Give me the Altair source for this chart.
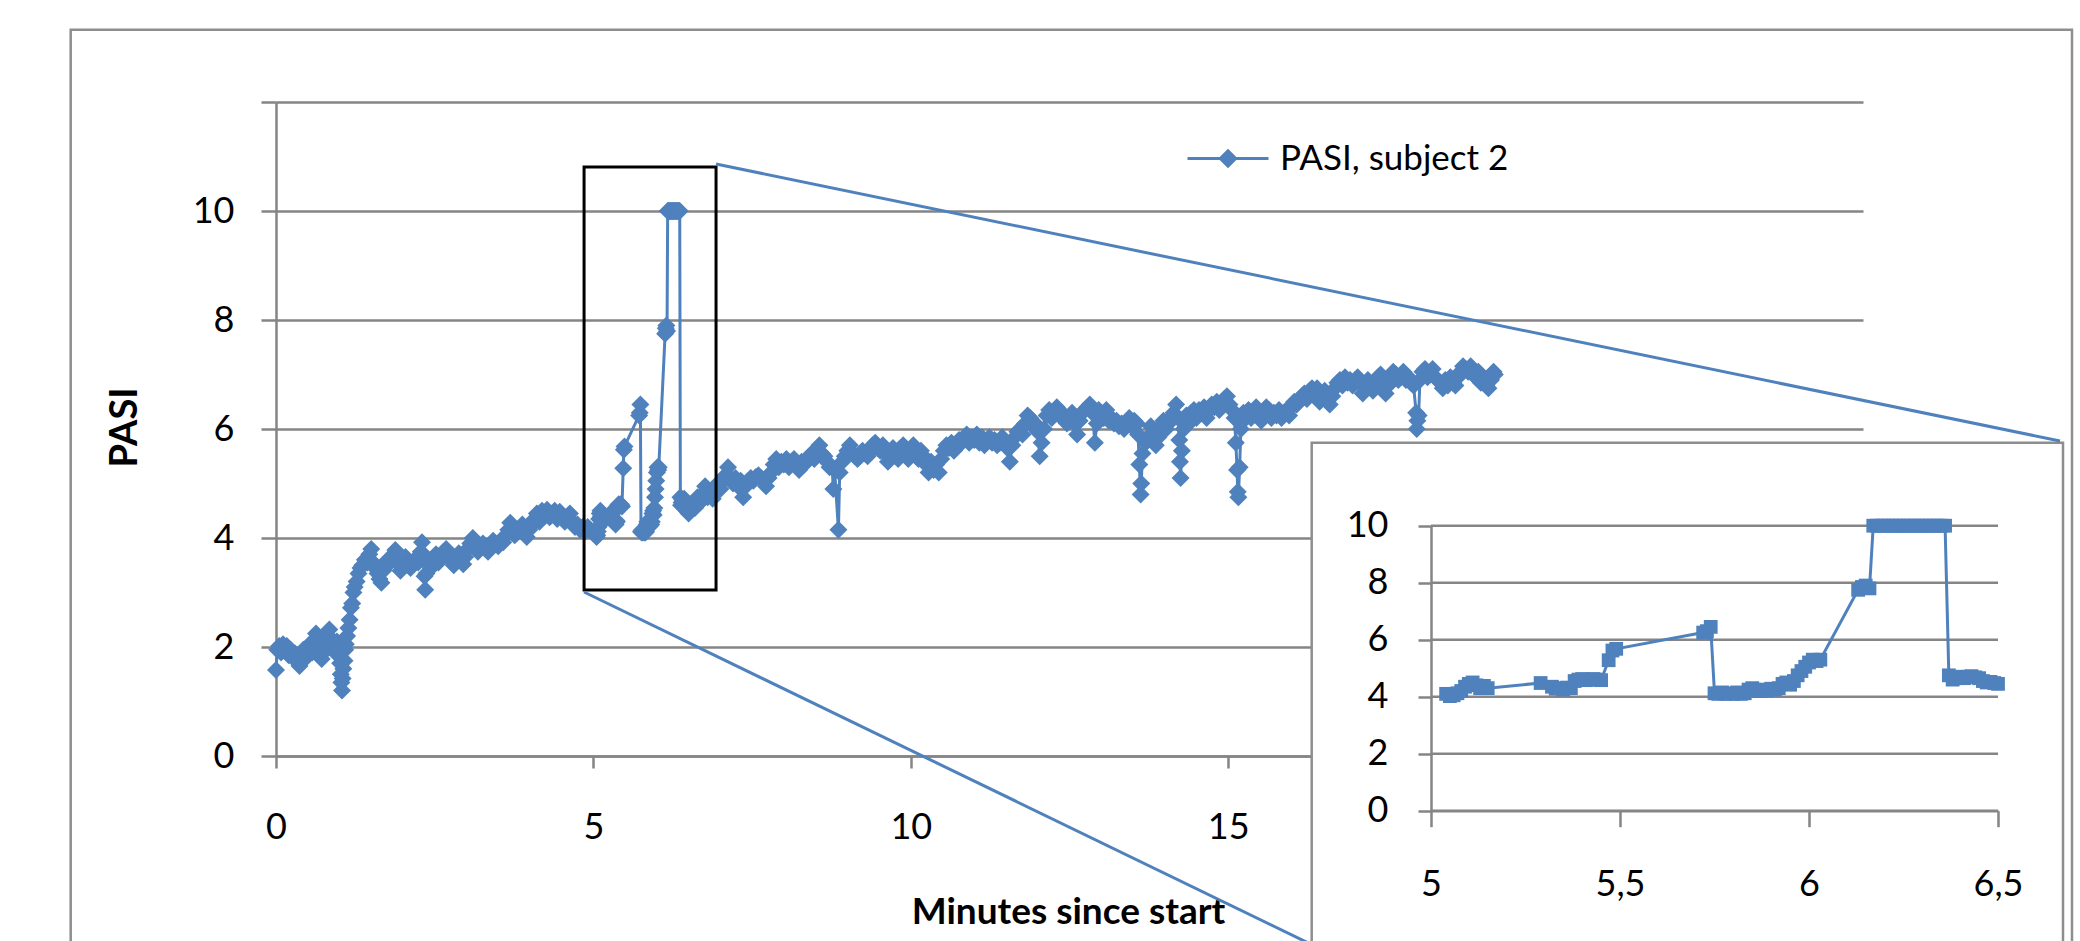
import altair as alt
import pandas as pd

SERIES = "PASI, subject 2"

# ---- data (minutes since start, PASI) ----
minutes_a = [0.00,0.02,0.05,0.08,0.11,0.14,0.17,0.20,0.23,0.27,
             0.30,0.33,0.37,0.40,0.43,0.47,0.50,0.53,0.57,0.60,
             0.63,0.66,0.69,0.72,0.75,0.78,0.81,0.84,0.87,0.90,
             0.93,0.96,0.99,1.01,1.02,1.03,1.04,1.05,1.06,1.08,
             1.09,1.10,1.12,1.14,1.16,1.18,1.20,1.22,1.24,1.27,
             1.30,1.33,1.36,1.40,1.44,1.47,1.50,1.53,1.56,1.60,
             1.63,1.66,1.69,1.72,1.76,1.80,1.84,1.88,1.92,1.96,
             2.00,2.04,2.08,2.12,2.16,2.20,2.24,2.28,2.30,2.32,
             2.34,2.35,2.37,2.40,2.44,2.48,2.52,2.56,2.60,2.64,
             2.68,2.72,2.76,2.80,2.84,2.88,2.92,2.95,2.98,3.02,
             3.06,3.10,3.14,3.18,3.22,3.26,3.30,3.34,3.38,3.42,
             3.46,3.50,3.54,3.58,3.62,3.66,3.69,3.72,3.76,3.80,
             3.84,3.88,3.92,3.95,3.99,4.03,4.07,4.11,4.15,4.19,
             4.23,4.27,4.31,4.35,4.39,4.43,4.47,4.51,4.55,4.59,
             4.63,4.67,4.71,4.75,4.79,4.83,4.87,4.91,4.95]
pasi_a = [1.58,1.95,2.02,1.90,2.05,1.95,2.02,1.85,1.95,1.80,
          1.88,1.75,1.65,1.85,1.95,1.80,1.95,2.05,1.90,2.10,
          2.25,2.10,1.95,1.78,1.90,2.00,2.20,2.32,2.15,2.05,
          1.90,2.10,1.95,1.70,1.50,1.35,1.20,1.42,1.60,1.75,
          1.95,2.05,2.20,2.35,2.50,2.72,2.80,3.00,3.10,3.20,
          3.35,3.45,3.50,3.60,3.55,3.70,3.80,3.55,3.45,3.35,
          3.25,3.18,3.40,3.50,3.60,3.55,3.65,3.78,3.55,3.40,
          3.50,3.65,3.50,3.45,3.55,3.62,3.55,3.75,3.92,3.70,
          3.30,3.05,3.35,3.55,3.45,3.60,3.70,3.55,3.65,3.75,
          3.80,3.70,3.60,3.50,3.62,3.72,3.60,3.52,3.65,3.80,
          3.90,4.00,3.85,3.75,3.85,3.90,3.80,3.75,3.85,3.95,
          3.90,3.85,3.95,3.92,4.05,4.15,4.28,4.10,4.05,4.10,
          4.15,4.25,4.10,4.02,4.15,4.25,4.35,4.45,4.30,4.50,
          4.40,4.52,4.38,4.45,4.50,4.35,4.48,4.42,4.30,4.40,
          4.45,4.30,4.20,4.25,4.15,4.20,4.12,4.20,4.15]

minutes_b = [5.04,5.05,5.06,5.07,5.08,5.09,5.10,5.11,5.12,5.13,5.14,5.15,
             5.29,
             5.32,5.33,5.34,5.35,5.36,5.37,5.38,5.39,5.40,5.41,5.42,5.43,5.44,5.45,
             5.47,5.48,5.49,
             5.72,5.73,5.74,
             5.75,5.76,5.77,5.78,5.79,5.80,5.81,5.82,5.83,5.84,5.85,5.86,5.87,5.88,5.89,
             5.90,5.91,5.92,5.93,5.94,5.95,5.96,5.97,5.98,5.99,6.00,6.01,6.02,6.03,
             6.13,6.14,6.15,6.16,
             6.17,6.18,6.19,6.20,6.21,6.22,6.23,6.24,6.25,6.26,
             6.27,6.28,6.29,6.30,6.31,6.32,6.33,6.34,6.35,6.36,
             6.37,6.38,6.39,6.40,6.41,6.42,6.43,6.44,6.45,6.46,6.47,6.48,6.49,6.50]
pasi_b = [4.10,4.02,4.05,4.12,4.20,4.35,4.45,4.50,4.40,4.30,4.38,4.30,
          4.48,
          4.35,4.28,4.30,4.25,4.32,4.30,4.55,4.60,4.62,4.58,4.60,4.62,4.60,4.58,
          5.28,5.62,5.68,
          6.25,6.30,6.45,
          4.12,4.10,4.15,4.10,4.12,4.10,4.15,4.10,4.12,4.25,4.30,4.22,4.20,4.25,4.22,
          4.28,4.25,4.30,4.45,4.50,4.42,4.55,4.75,4.90,5.05,5.20,5.30,5.25,5.30,
          7.75,7.85,7.90,7.80,
          10.0,10.0,10.0,10.0,10.0,10.0,10.0,10.0,10.0,10.0,
          10.0,10.0,10.0,10.0,10.0,10.0,10.0,10.0,10.0,10.0,
          4.75,4.60,4.65,4.70,4.65,4.70,4.72,4.68,4.65,4.55,4.50,4.52,4.48,4.45]

minutes_c = [6.55,6.60,6.64,6.68,6.72,6.76,6.80,6.84,6.88,6.92,
             6.96,7.00,7.04,7.08,7.12,7.16,7.20,7.24,7.28,7.32,
             7.36,7.40,7.44,7.48,7.52,7.56,7.60,7.64,7.68,7.72,
             7.76,7.80,7.84,7.88,7.92,7.96,8.00,8.04,8.08,8.12,
             8.16,8.20,8.24,8.28,8.32,8.36,8.40,8.44,8.48,8.52,
             8.56,8.60,8.64,8.68,8.72,8.76,8.78,8.80,8.86,8.88,
             8.92,8.96,9.00,9.04,9.08,9.12,9.16,9.20,9.24,9.28,
             9.32,9.36,9.40,9.44,9.48,9.52,9.56,9.60,9.64,9.68,
             9.72,9.76,9.80,9.84,9.88,9.92,9.96,10.00,10.04,10.08,
             10.12,10.16,10.20,10.24,10.28,10.32,10.36,10.40,10.44,10.48,
             10.52,10.56,10.60,10.64,10.68,10.72,10.76,10.80,10.84,10.88,
             10.92,10.96,11.00,11.04,11.08,11.12,11.16,11.20,11.24,11.28,
             11.32,11.36,11.40,11.44,11.48,11.52,11.56,11.60,11.64,11.68,
             11.72,11.76,11.80,11.84,11.88,11.92,11.96,12.00,12.03,12.06,
             12.10,12.14,12.18,12.22,12.26,12.30,12.34,12.38,12.42,12.46,
             12.50,12.54,12.58,12.62,12.66,12.70,12.74,12.78,12.82,12.86,
             12.90,12.93,12.96,13.00,13.04,13.08,13.12,13.16,13.20,13.24,
             13.28,13.32,13.36,13.40,13.44,13.48,13.52,13.56,13.58,13.60,
             13.62,13.63,13.65,13.68]
pasi_c = [4.60,4.55,4.75,4.65,4.80,4.95,4.75,4.85,4.72,4.90,
          5.00,4.90,5.05,5.15,5.30,5.10,5.00,5.10,4.95,5.05,
          4.75,4.95,5.05,5.10,5.05,5.12,5.15,5.10,5.05,4.95,
          5.10,5.20,5.35,5.45,5.30,5.40,5.35,5.45,5.30,5.40,
          5.45,5.35,5.25,5.40,5.35,5.45,5.50,5.55,5.45,5.60,
          5.70,5.55,5.50,5.40,5.30,5.30,4.90,5.25,4.15,5.20,
          5.40,5.50,5.60,5.70,5.55,5.50,5.45,5.50,5.60,5.55,
          5.50,5.60,5.70,5.75,5.65,5.60,5.70,5.55,5.40,5.55,
          5.65,5.50,5.45,5.65,5.70,5.55,5.45,5.60,5.70,5.50,
          5.45,5.60,5.50,5.35,5.20,5.40,5.25,5.35,5.20,5.45,
          5.60,5.70,5.65,5.75,5.60,5.70,5.80,5.75,5.85,5.90,
          5.75,5.85,5.80,5.90,5.75,5.85,5.70,5.80,5.85,5.75,
          5.80,5.70,5.75,5.85,5.75,5.65,5.40,5.70,5.85,5.95,
          6.00,5.90,6.10,6.25,6.20,6.05,6.10,5.95,5.50,5.75,
          6.00,6.25,6.35,6.20,6.30,6.40,6.25,6.30,6.20,6.10,
          6.20,6.30,6.10,5.90,6.15,6.30,6.35,6.40,6.45,6.30,
          5.75,6.10,6.35,6.30,6.20,6.35,6.15,6.20,6.10,6.15,
          6.05,6.10,6.00,6.10,6.20,6.05,6.15,6.10,5.90,5.35,
          4.80,5.00,5.55,5.80]

minutes_d = [13.70,13.74,13.78,13.82,13.86,13.90,13.94,13.98,14.02,14.06,
             14.10,14.14,14.18,14.21,14.23,14.24,14.25,14.27,14.30,14.34,
             14.38,14.42,14.46,14.50,14.54,14.58,14.62,14.66,14.70,14.74,
             14.78,14.82,14.86,14.90,14.94,14.98,15.02,15.06,15.10,15.12,
             15.14,15.15,15.16,15.18,15.20,15.24,15.28,15.32,15.36,15.40,
             15.44,15.48,15.52,15.56,15.60,15.64,15.68,15.72,15.76,15.80,
             15.84,15.88,15.92,15.96,16.00,16.04,16.08,16.12,16.16,16.20,
             16.24,16.28,16.32,16.36,16.40,16.44,16.48,16.52,16.56,16.60,
             16.64,16.68,16.72,16.76,16.80,16.84,16.88,16.92,16.96,17.00,
             17.04,17.08,17.12,17.16,17.20,17.24,17.28,17.32,17.36,17.40,
             17.44,17.48,17.52,17.56,17.60,17.64,17.68,17.72,17.76,17.80,
             17.84,17.88,17.92,17.96,17.97,17.98,18.00,18.02,18.06,18.10,
             18.14,18.18,18.22,18.26,18.30,18.34,18.38,18.42,18.46,18.50,
             18.54,18.58,18.62,18.66,18.70,18.74,18.78,18.82,18.86,18.90,
             18.94,18.98,19.02,19.06,19.10,19.14,19.18,19.20]
pasi_d = [5.75,5.85,6.05,5.90,5.70,5.85,6.05,6.15,6.00,6.10,
          6.20,6.30,6.45,6.20,5.80,5.40,5.10,5.60,6.00,6.25,
          6.10,6.30,6.35,6.20,6.35,6.30,6.40,6.20,6.35,6.45,
          6.40,6.50,6.35,6.45,6.55,6.60,6.45,6.35,6.20,5.75,
          5.25,4.85,4.75,5.30,6.00,6.30,6.20,6.35,6.20,6.30,
          6.40,6.25,6.15,6.30,6.40,6.35,6.20,6.30,6.25,6.35,
          6.20,6.30,6.35,6.25,6.40,6.50,6.45,6.55,6.60,6.65,
          6.55,6.70,6.75,6.60,6.75,6.50,6.60,6.70,6.60,6.45,
          6.60,6.75,6.85,6.90,6.80,6.95,6.85,6.90,6.80,6.90,
          6.95,6.85,6.65,6.75,6.90,6.80,6.70,6.85,6.95,7.00,
          6.80,6.65,6.80,6.95,7.05,7.00,6.90,6.95,7.05,6.90,
          6.95,6.85,6.80,6.30,6.00,6.15,6.25,6.90,7.05,7.10,
          6.95,7.00,7.10,6.95,6.90,6.85,6.75,6.90,6.80,6.95,
          6.85,6.80,6.95,7.05,7.15,7.10,7.05,7.15,7.00,6.95,
          7.05,6.85,6.95,6.80,6.75,6.90,7.05,7.00]

# axis ticks
main_x_ticks = [0, 5, 10, 15, 20, 25]
main_y_ticks = [0, 2, 4, 6, 8, 10, 12]
inset_x_ticks = [5, 5.5, 6, 6.5]
inset_y_ticks = [0, 2, 4, 6, 8, 10]

# zoomed window drawn on the main chart (data units)
zoom_minutes = [4.853, 6.932]
zoom_pasi = [3.046, 10.807]

minutes = minutes_a + minutes_b + minutes_c + minutes_d
pasi = pasi_a + pasi_b + pasi_c + pasi_d
assert len(minutes) == len(pasi)

df = pd.DataFrame({"t": minutes, "v": pasi, "series": SERIES})

# ---- styling / layout ----
BLUE = "#4F81BD"
GRID = "#858585"
FRAME = "#8e8e8e"
FONT = "Lato"
W, H = 1587, 654
LEGEND_SYMBOL = "M-1,0L1,0M0,-0.19L0.19,0L0,0.19L-0.19,0Z"

one = pd.DataFrame({"k": [0]})

# main chart
main_x_axis = alt.Axis(values=main_x_ticks, grid=False, tickSize=12, labelPadding=42,
                       titleX=792, titleY=167, titleBaseline="alphabetic", zindex=0)
main_y_axis = alt.Axis(values=main_y_ticks, grid=True, tickSize=15, labelPadding=27,
                       labelExpr="datum.value == 12 ? '' : datum.label",
                       titleX=-151, titleY=325, titleAngle=270, titleBaseline="middle",
                       titleFontSize=38, zindex=0)
main_x_scale = alt.Scale(domain=[0, 25], nice=False, zero=False)
main_y_scale = alt.Scale(domain=[0, 12], nice=False)

main_line = alt.Chart(df).mark_line(
    strokeWidth=3,
    point=alt.OverlayMarkDef(shape="diamond", filled=True, size=324, color=BLUE),
).encode(
    x=alt.X("t:Q", title="Minutes since start", scale=main_x_scale, axis=main_x_axis),
    y=alt.Y("v:Q", title="PASI", scale=main_y_scale, axis=main_y_axis),
    color=alt.Color("series:N", scale=alt.Scale(range=[BLUE]),
                    legend=alt.Legend(title=None, orient="none", legendX=910, legendY=14.5,
                                      symbolType=LEGEND_SYMBOL, symbolSize=6561,
                                      symbolStrokeWidth=3, symbolFillColor=BLUE,
                                      symbolStrokeColor=BLUE, labelFont=FONT,
                                      labelFontSize=35, labelColor="black",
                                      labelLimit=600, labelOffset=10, padding=0)),
)

zoom_df = pd.DataFrame({"t": [zoom_minutes[0]], "t2": [zoom_minutes[1]],
                        "v": [zoom_pasi[0]], "v2": [zoom_pasi[1]]})
zoom_rect = alt.Chart(zoom_df).mark_rect(fillOpacity=0, stroke="black", strokeWidth=3).encode(
    x=alt.X("t:Q", title="Minutes since start", scale=main_x_scale, axis=main_x_axis),
    x2="t2:Q",
    y=alt.Y("v:Q", title="PASI", scale=main_y_scale, axis=main_y_axis),
    y2="v2:Q",
)

main = alt.layer(main_line, zoom_rect)

# inset chart
inset_x_scale = alt.Scale(domain=[5, 6.5], range=[1155, 1722], nice=False, zero=False)
inset_y_scale = alt.Scale(domain=[0, 10], range=[708.7, 423.7], nice=False, zero=False)
inset_x_axis = alt.Axis(values=inset_x_ticks, orient="bottom", offset=54.7, title=None,
                        grid=False, tickSize=16, labelPadding=41,
                        labelExpr="replace(format(datum.value, '~g'), '.', ',')", zindex=1)
inset_y_axis = alt.Axis(values=inset_y_ticks, orient="left", offset=-1155, title=None,
                        grid=False, tickSize=13, labelPadding=30, zindex=1)

inset_bg = alt.Chart(one).mark_rect(fill="white", stroke=FRAME, strokeWidth=2.5).encode(
    x=alt.value(1035.7), x2=alt.value(1787), y=alt.value(340.7), y2=alt.value(842.6))

inset_grid = alt.Chart(pd.DataFrame({"v": inset_y_ticks})).mark_rule(
    color=GRID, strokeWidth=2.5).encode(
    y=alt.Y("v:Q", scale=inset_y_scale, axis=inset_y_axis),
    x=alt.value(1155), x2=alt.value(1722))

inset_line = alt.Chart(df).transform_filter(
    "datum.t >= 5 && datum.t <= 6.5"
).mark_line(
    color=BLUE, strokeWidth=3,
    point=alt.OverlayMarkDef(shape="square", filled=True, size=190, color=BLUE),
).encode(
    x=alt.X("t:Q", scale=inset_x_scale, axis=inset_x_axis),
    y=alt.Y("v:Q", scale=inset_y_scale, axis=inset_y_axis),
)

inset = alt.layer(inset_bg, inset_grid, inset_line)

# frame and connector lines
outer = alt.Chart(one).mark_rect(fillOpacity=0, stroke=FRAME, strokeWidth=2.5).encode(
    x=alt.value(-205.3), x2=alt.value(1796), y=alt.value(-72.3), y2=alt.value(860))
conn_top = alt.Chart(one).mark_rule(color=BLUE, strokeWidth=3).encode(
    x=alt.value(440), y=alt.value(62), x2=alt.value(1784), y2=alt.value(339))
conn_bottom = alt.Chart(one).mark_rule(color=BLUE, strokeWidth=3).encode(
    x=alt.value(308), y=alt.value(490), x2=alt.value(1035.7), y2=alt.value(842.6))

chart = alt.layer(outer, main, inset, conn_top, conn_bottom).resolve_scale(
    x="independent", y="independent"
).properties(
    width=W, height=H,
    padding={"left": 276, "top": 102, "right": 217, "bottom": 185},
    autosize=alt.AutoSizeParams(type="none"),
    background="white",
).configure_view(
    strokeWidth=0
).configure_axis(
    labelFont=FONT, labelFontSize=36, labelColor="black",
    titleFont=FONT, titleFontSize=37, titleFontWeight="bold", titleColor="black",
    domainColor=GRID, domainWidth=2.5, tickColor=GRID, tickWidth=2.5,
    gridColor=GRID, gridWidth=2.5, labelFlush=False, labelOverlap=False,
)

chart.save("out.html", embed_options={"renderer": "svg", "actions": False})
